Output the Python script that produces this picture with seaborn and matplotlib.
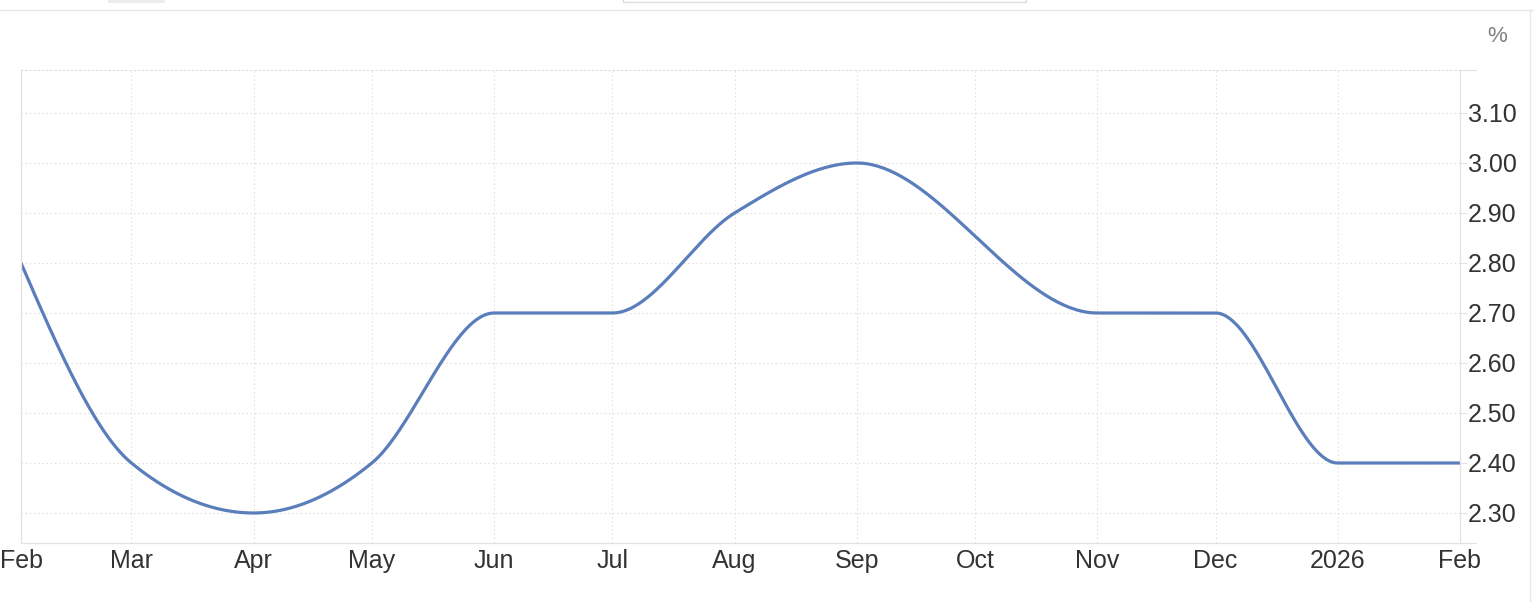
import numpy as np
import pandas as pd
import matplotlib
matplotlib.use("Agg")
import matplotlib.pyplot as plt
import matplotlib.dates as mdates
from matplotlib.lines import Line2D
from matplotlib.patches import Rectangle
import seaborn as sns

# ---- data (Oct 2025 has no observation) ----
dates = ["2025-02-01", "2025-03-01", "2025-04-01", "2025-05-01", "2025-06-01",
         "2025-07-01", "2025-08-01", "2025-09-01", "2025-11-01", "2025-12-01",
         "2026-01-01", "2026-02-01"]
values = [2.8, 2.4, 2.3, 2.4, 2.7, 2.7, 2.9, 3.0, 2.7, 2.7, 2.4, 2.4]

tick_dates = ["2025-02-01", "2025-03-01", "2025-04-01", "2025-05-01", "2025-06-01",
              "2025-07-01", "2025-08-01", "2025-09-01", "2025-10-01", "2025-11-01",
              "2025-12-01", "2026-01-01", "2026-02-01"]
tick_labels = ["Feb", "Mar", "Apr", "May", "Jun", "Jul", "Aug", "Sep", "Oct",
               "Nov", "Dec", "2026", "Feb"]
y_ticks = [2.30, 2.40, 2.50, 2.60, 2.70, 2.80, 2.90, 3.00, 3.10]
unit_label = "%"

LINE = "#5a7dbb"
GRID = "#dedede"
AXC = "#e3e3e3"
TXT = "#333333"


def monotone_x(x, y, n=80):
    """d3 curveMonotoneX style rendering of a line through the points."""
    x = np.asarray(x, float)
    y = np.asarray(y, float)
    h = np.diff(x)
    s = np.diff(y) / h
    m = np.zeros_like(y)
    for i in range(1, len(x) - 1):
        h0, h1 = h[i - 1], h[i]
        s0, s1 = s[i - 1], s[i]
        p = (s0 * h1 + s1 * h0) / (h0 + h1)
        m[i] = (np.sign(s0) + np.sign(s1)) * min(abs(s0), abs(s1), 0.5 * abs(p))
    m[0] = (3 * s[0] - m[1]) / 2
    m[-1] = (3 * s[-1] - m[-2]) / 2
    xs, ys = [], []
    for i in range(len(h)):
        t = np.linspace(0, 1, n, endpoint=(i == len(h) - 1))
        h00 = 2 * t**3 - 3 * t**2 + 1
        h10 = t**3 - 2 * t**2 + t
        h01 = -2 * t**3 + 3 * t**2
        h11 = t**3 - t**2
        yy = h00 * y[i] + h10 * h[i] * m[i] + h01 * y[i + 1] + h11 * h[i] * m[i + 1]
        xs.append(x[i] + t * h[i])
        ys.append(yy)
    return np.concatenate(xs), np.concatenate(ys)


sns.set_theme(style="white")
plt.rcParams["font.family"] = ["Liberation Sans", "DejaVu Sans"]

fig = plt.figure(figsize=(15.34, 6.02), dpi=100)
W, H = 1534, 602
ax = fig.add_axes([21 / W, 1 - 543 / H, (1460 - 21) / W, (543 - 70) / H])

xnum = mdates.date2num(pd.to_datetime(dates))
sx, sy = monotone_x(xnum, values)
df = pd.DataFrame({"date": mdates.num2date(sx), "value": sy})
df["date"] = pd.to_datetime(df["date"]).dt.tz_localize(None)
sns.lineplot(data=df, x="date", y="value", ax=ax, color=LINE, linewidth=2.3,
             estimator=None, sort=False)

ax.set_xlim(mdates.date2num(pd.Timestamp("2025-02-01")),
            mdates.date2num(pd.Timestamp("2026-02-01")))
ax.set_ylim(2.24, 3.186)

ax.set_xticks(mdates.date2num(pd.to_datetime(tick_dates)))
ax.set_xticklabels(tick_labels)
ax.set_yticks(y_ticks)
ax.set_yticklabels([f"{v:.2f}" for v in y_ticks])
ax.yaxis.tick_right()
ax.set_xlabel("")
ax.set_ylabel("")

ax.tick_params(axis="x", length=0, pad=4.5, labelsize=18, labelcolor=TXT)
ax.tick_params(axis="y", which="major", right=True, left=False, length=5.0,
               width=0.75, color=AXC, direction="out", pad=0.6,
               labelsize=18, labelcolor=TXT)

ax.grid(True, color=GRID, linestyle=(0, (1.4, 2.6)), linewidth=0.75)
ax.set_axisbelow(True)

for side in ["left", "bottom", "right"]:
    ax.spines[side].set_visible(True)
    ax.spines[side].set_color(AXC)
    ax.spines[side].set_linewidth(0.9)
ax.spines["top"].set_visible(True)
ax.spines["top"].set_color(GRID)
ax.spines["top"].set_linewidth(0.75)
ax.spines["top"].set_linestyle((0, (1.4, 2.6)))

# extensions of top / bottom lines past the right axis
ext = 16 / (1460 - 21)
for yy in (0, 1):
    ax.add_line(Line2D([1, 1 + ext], [yy, yy], transform=ax.transAxes,
                       color=AXC, lw=0.9, clip_on=False))

# unit label
fig.text(1497 / W, 1 - 37 / H, unit_label, ha="center", va="center",
         fontsize=16, color="#808080")

# page chrome around the chart
fig.add_artist(Line2D([0, 1], [1 - 9.5 / H] * 2, transform=fig.transFigure,
                      color="#e6e6e6", lw=1))
fig.add_artist(Line2D([1530 / W] * 2, [0, 1 - 9.5 / H], transform=fig.transFigure,
                      color="#e6e6e6", lw=1))
fig.add_artist(Rectangle((108 / W, 1 - 2.5 / H), 57 / W, 2.5 / H,
                         transform=fig.transFigure, color="#ececec", lw=0))
fig.add_artist(Line2D([623 / W, 1026 / W], [1 - 1.5 / H] * 2,
                      transform=fig.transFigure, color="#dddddd", lw=1))
for xx in (623, 1026):
    fig.add_artist(Line2D([xx / W] * 2, [1 - 1.5 / H, 1], transform=fig.transFigure,
                          color="#dddddd", lw=1))

fig.savefig("out.png", dpi=100, facecolor="white")
